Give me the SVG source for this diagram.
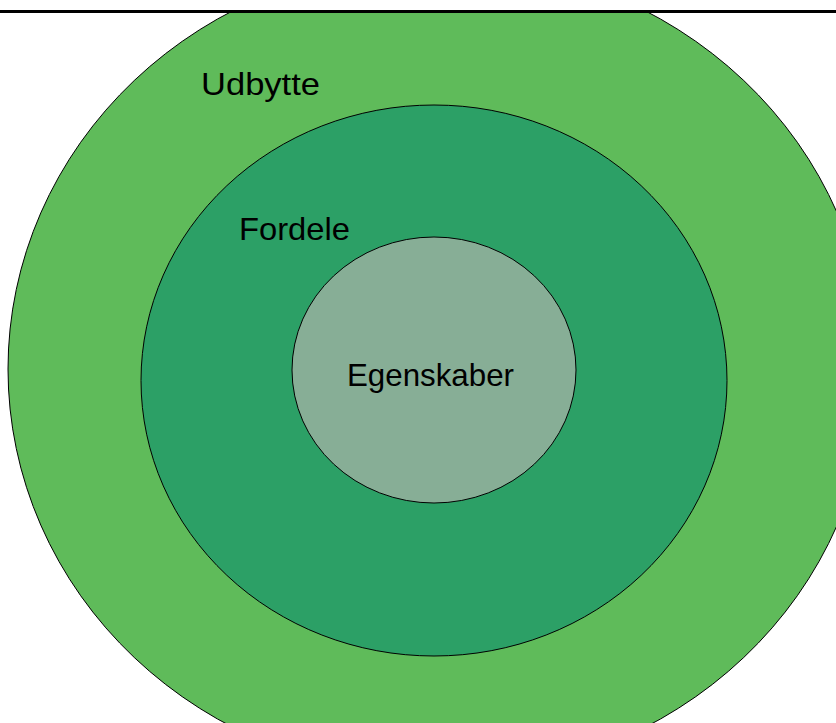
<svg xmlns="http://www.w3.org/2000/svg" width="836" height="723" viewBox="0 0 836 723">
<style>
.ring{stroke:#000;stroke-width:1}
.lbl{font-family:"Liberation Sans",Arial,sans-serif;font-size:32px;fill:#000}
</style>
<defs>
<clipPath id="below"><rect x="0" y="11" width="836" height="712"/></clipPath>
</defs>
<rect x="0" y="0" width="836" height="723" fill="#fff"/>
<g id="outer" clip-path="url(#below)">
<ellipse class="ring" cx="439" cy="369" rx="431" ry="408" fill="#5FBB5A"/>
<text class="lbl" x="201" y="95" textLength="119" lengthAdjust="spacingAndGlyphs">Udbytte</text>
</g>
<g id="middle">
<ellipse class="ring" cx="434" cy="380.5" rx="293" ry="275.5" fill="#2CA066"/>
<text class="lbl" x="239" y="240" textLength="111" lengthAdjust="spacingAndGlyphs">Fordele</text>
</g>
<g id="inner">
<ellipse class="ring" cx="434" cy="370" rx="142" ry="133" fill="#87AE96"/>
<text class="lbl" x="347" y="386" textLength="167" lengthAdjust="spacingAndGlyphs">Egenskaber</text>
</g>
<g id="connectors"></g>
<line x1="0" y1="11.5" x2="836" y2="11.5" stroke="#000" stroke-width="3"/>
</svg>
